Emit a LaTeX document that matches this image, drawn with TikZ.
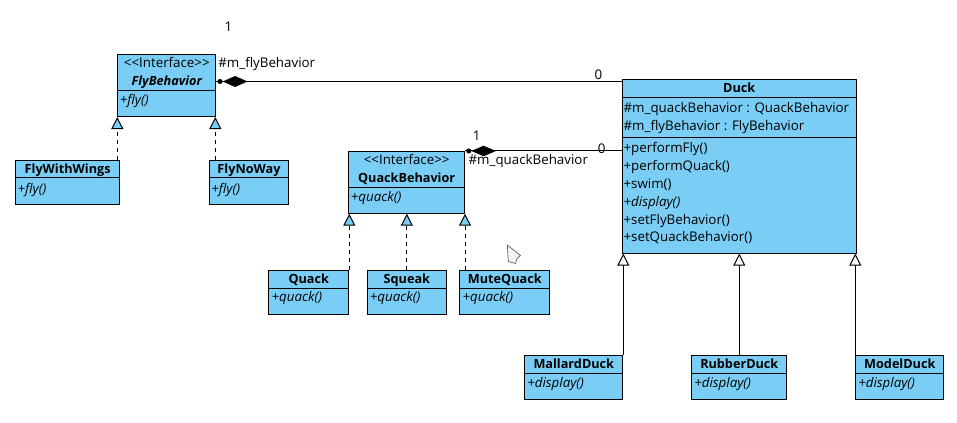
\documentclass[tikz,border=0pt]{standalone}
\usepackage{fontspec}
\setmainfont{Open Sans}
\usetikzlibrary{arrows.meta,calc}
\definecolor{umlblue}{RGB}{122,206,245}
\newcommand{\stereo}[1]{{<}{<}#1{>}{>}}
\begin{document}
\begin{tikzpicture}[x=0.75pt,y=-0.75pt,
  font=\fontsize{10}{12}\selectfont,
  cls/.style={draw, fill=umlblue, inner sep=0pt, anchor=north west, line width=0.75pt, minimum height=32.8pt},
  txt/.style={inner sep=0pt, anchor=base west},
  ctxt/.style={inner sep=0pt, anchor=base},
  hdr/.style={ctxt, font=\fontsize{9.5}{11}\selectfont\bfseries},
  realiz/.style={-{Triangle[fill=umlblue,length=9pt,width=9pt]}, dashed, line width=0.75pt},
  gener/.style={-{Triangle[fill=white,length=9pt,width=9pt]}, line width=0.75pt},
  assoc/.style={line width=0.75pt},
  sep/.style={line width=0.75pt}
]
\useasboundingbox (0,0) rectangle (957,423);

% ---------------- FlyBehavior
\node[cls, minimum width=73.5pt, minimum height=46.3pt] (fly) at (117.3,54.3) {};
\draw[sep] (fly.west |- 0,90.3) -- (fly.east |- 0,90.3);
\node[ctxt] (flyS) at (fly.north |- 0,67.5) {\stereo{Interface}};
\node[hdr, font=\fontsize{9.5}{11}\selectfont\bfseries\itshape] (flyN) at (fly.north |- 0,86) {FlyBehavior};
\node[txt] (flyM) at (119.5,105) {\itshape +fly()};

% FlyWithWings
\node[cls, minimum width=78.2pt, minimum height=33pt] (fww) at (15,160) {};
\draw[sep] (fww.west |- 0,178) -- (fww.east |- 0,178);
\node[hdr] (fwwN) at (fww.north |- 0,174) {FlyWithWings};
\node[txt] (fwwM) at (17.3,193.3) {\itshape +fly()};

% FlyNoWay
\node[cls, minimum width=59.7pt, minimum height=33pt] (fnw) at (208.7,160) {};
\draw[sep] (fnw.west |- 0,178) -- (fnw.east |- 0,178);
\node[hdr] (fnwN) at (fnw.north |- 0,174) {FlyNoWay};
\node[txt] (fnwM) at (211,193.3) {\itshape +fly()};

\draw[realiz] (fly.south west |- fww.north) -- (fly.south west);
\draw[realiz] ($(fly.south east |- fnw.north)+(-1,0)$) -- ($(fly.south east)+(-1,0)$);

% ---------------- QuackBehavior
\node[cls, minimum width=86.8pt, minimum height=46.3pt] (qb) at (348.3,151) {};
\draw[sep] (qb.west |- 0,187.3) -- (qb.east |- 0,187.3);
\node[ctxt] (qbS) at (qb.north |- 0,165) {\stereo{Interface}};
\node[hdr] (qbN) at (qb.north |- 0,183) {QuackBehavior};
\node[txt] (qbM) at (350.5,201.5) {\itshape +quack()};

% Quack
\node[cls, minimum width=60pt] (qk) at (268.3,270.3) {};
\draw[sep] (qk.west |- 0,288.3) -- (qk.east |- 0,288.3);
\node[hdr] (qkN) at (qk.north |- 0,284) {Quack};
\node[txt] (qkM) at (271.3,301.7) {\itshape +quack()};

% Squeak
\node[cls, minimum width=59.5pt] (sq) at (366.7,270.3) {};
\draw[sep] (sq.west |- 0,288.3) -- (sq.east |- 0,288.3);
\node[hdr] (sqN) at (sq.north |- 0,284) {Squeak};
\node[txt] (sqM) at (369.5,301.7) {\itshape +quack()};

% MuteQuack
\node[cls, minimum width=67.5pt] (mq) at (459.3,270.3) {};
\draw[sep] (mq.west |- 0,288.3) -- (mq.east |- 0,288.3);
\node[hdr] (mqN) at (mq.north |- 0,284) {MuteQuack};
\node[txt] (mqM) at (462.3,301.7) {\itshape +quack()};

\draw[realiz] (qk.north east) -- (qk.north east |- qb.south);
\draw[realiz] (sq.north) -- (sq.north |- qb.south);
\draw[realiz] (qb.south east |- mq.north) -- (qb.south east);

% ---------------- Duck
\node[cls, minimum width=175.5pt, minimum height=130pt] (duck) at (621.7,79.3) {};
\draw[sep] (duck.west |- 0,97.3) -- (duck.east |- 0,97.3);
\draw[sep] (duck.west |- 0,137.3) -- (duck.east |- 0,137.3);
\node[hdr] (duckN) at (duck.north |- 0,93) {Duck};
\node[txt] (dA1) at (623.3,113) {\#m\_quackBehavior : QuackBehavior};
\node[txt] (dA2) at (623.3,131) {\#m\_flyBehavior : FlyBehavior};
\node[txt] (dM1) at (623.3,153) {+performFly()};
\node[txt] (dM2) at (623.3,171) {+performQuack()};
\node[txt] (dM3) at (623.3,189) {+swim()};
\node[txt] (dM4) at (623.3,206.7) {\itshape +display()};
\node[txt] (dM5) at (623.3,224.3) {+setFlyBehavior()};
\node[txt] (dM6) at (623.3,242) {+setQuackBehavior()};

% Subclasses
\node[cls, minimum width=73.5pt] (md) at (524.3,355.3) {};
\draw[sep] (md.west |- 0,373.3) -- (md.east |- 0,373.3);
\node[hdr] (mdN) at (md.north |- 0,369) {MallardDuck};
\node[txt] (mdM) at (527,388) {\itshape +display()};

\node[cls, minimum width=71.25pt] (rd) at (691.3,355.3) {};
\draw[sep] (rd.west |- 0,373.3) -- (rd.east |- 0,373.3);
\node[hdr] (rdN) at (rd.north |- 0,369) {RubberDuck};
\node[txt] (rdM) at (694,388) {\itshape +display()};

\node[cls, minimum width=66pt] (mo) at (855.3,355.3) {};
\draw[sep] (mo.west |- 0,373.3) -- (mo.east |- 0,373.3);
\node[hdr] (moN) at (mo.north |- 0,369) {ModelDuck};
\node[txt] (moM) at (858,388) {\itshape +display()};

\draw[gener] (md.north east) -- (md.north east |- duck.south);
\draw[gener] (rd.north) -- (rd.north |- duck.south);
\draw[gener] (mo.north west) -- (mo.north west |- duck.south);

% ---------------- Associations
\coordinate (fa) at (fly.east |- 0,81.5);
\draw[assoc] (fa) -- (duck.west |- fa);
\fill ($(fa)+(3.7,0)$) circle (1.9pt);
\fill ($(fa)+(6.4,0)$) -- ++(12.4,-5.5) -- ++(12.4,5.5) -- ++(-12.4,5.5) -- cycle;
\node[ctxt] (fOne) at (228.5,31.7) {1};
\node[txt] (fRole) at (218,67.7) {\#m\_flyBehavior};
\node[ctxt] (fZero) at (598.5,80) {0};

\coordinate (qa) at (qb.north east);
\draw[assoc] (qa) -- (duck.west |- qa);
\fill ($(qa)+(3.7,0)$) circle (1.9pt);
\fill ($(qa)+(6.4,0)$) -- ++(12.2,-5.3) -- ++(12.2,5.3) -- ++(-12.2,5.3) -- cycle;
\node[ctxt] (qOne) at (476.7,140.7) {1};
\node[txt] (qRole) at (468.3,164.5) {\#m\_quackBehavior};
\node[ctxt] (qZero) at (601.7,153.3) {0};

% ---------------- mouse cursor
\draw[gray!70!black, fill=gray!8, line width=0.5pt, line join=round]
  (507.3,245) -- (508.3,261.5) -- (515.5,263.5) -- (517,258.5) -- (520.5,255.5) -- cycle;
\end{tikzpicture}
\end{document}
